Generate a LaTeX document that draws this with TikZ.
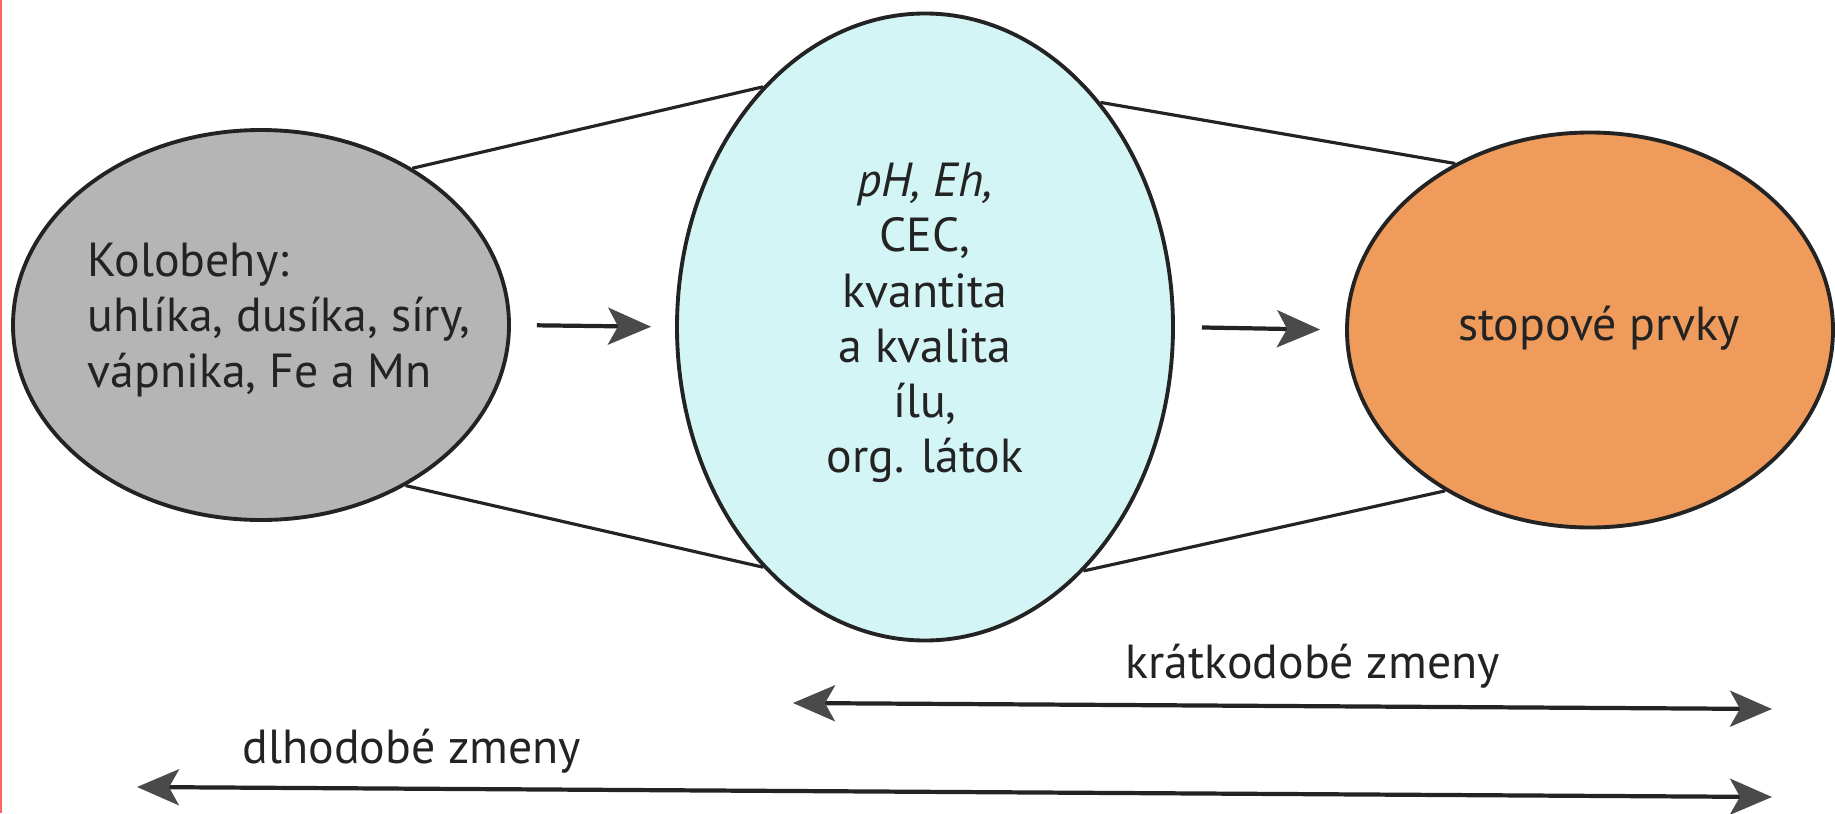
\documentclass[tikz,border=0pt]{standalone}
\usepackage{fontspec}
\setmainfont{PT Sans}
\usepackage{tikz}
\usetikzlibrary{shapes,arrows.meta,positioning}
\definecolor{cyclegray}{HTML}{B5B5B5}
\definecolor{claycyan}{HTML}{D4F5F5}
\definecolor{traceorange}{HTML}{EE9B5B}
\definecolor{inkgray}{HTML}{232323}
\definecolor{tipgray}{HTML}{4A4A4A}
\definecolor{scanred}{HTML}{FF6464}

\begin{document}
\begin{tikzpicture}[
    blob/.style={ellipse, draw=inkgray, line width=1.1pt, inner sep=0pt},
    blobtext/.style={text=inkgray, inner sep=0pt, font=\fontsize{13.6}{15.7}\selectfont},
    tie/.style={draw=inkgray, line width=0.9pt},
    flow/.style={-{Stealth[length=4.3mm, width=3.7mm, inset=1mm, color=tipgray]}, draw=inkgray, line width=1.2pt},
    span/.style={{Stealth[length=4.2mm, width=3.6mm, inset=1mm, color=tipgray]}-{Stealth[length=4.2mm, width=3.6mm, inset=1mm, color=tipgray]}, draw=inkgray, line width=1.2pt}
]
        % Page and scan edge
        \fill[white] (0,0) rectangle (18.35,8.13);
        \useasboundingbox (0,0) rectangle (18.35,8.13);
        \draw[scanred, line width=0.6pt] (0.01,0) -- (0.01,8.13);

        % The three ellipses
        \node[blob, fill=cyclegray, minimum width=4.96cm, minimum height=3.90cm] (cycles) at (2.61,4.88) {};
        \node[blob, fill=claycyan, minimum width=4.96cm, minimum height=6.27cm] (clay) at (9.25,4.86) {};
        \node[blob, fill=traceorange, minimum width=4.86cm, minimum height=3.95cm] (trace) at (15.90,4.83) {};

        % Texts inside
        \node[blobtext, align=left, anchor=west] (cyclestext) at (0.87,4.93) {Kolobehy:\\uhlíka, dusíka, síry,\\vápnika, Fe a Mn};
        \node[blobtext, align=center] (claytext) at (9.25,4.90) {\textit{pH, Eh,}\\CEC,\\kvantita\\a kvalita\\ílu,\\org. látok};
        \node[blobtext] (tracetext) at (15.99,4.85) {stopové prvky};

        % Straight ties between the ellipses
        \draw[tie] (cycles.46) -- (clay.124);
        \draw[tie] (cycles.-48) -- (clay.236);
        \draw[tie] (clay.52) -- (trace.129);
        \draw[tie] (clay.-57) -- (trace.228);

        % Arrows from left to right
        \draw[flow, shorten <=0.26cm, shorten >=0.24cm] (cycles.east) -- (clay.west);
        \draw[flow, shorten <=0.27cm, shorten >=0.25cm] (clay.east) -- (trace.west);

        % Time scales at the bottom
        \coordinate (shortL) at (7.93,1.10);
        \coordinate (shortR) at (17.72,1.04);
        \coordinate (longL) at (1.37,0.26);
        \coordinate (longR) at (17.72,0.16);
        \draw[span] (shortL) -- (shortR);
        \draw[span] (longL) -- (longR);
        \node[blobtext, anchor=base west] (shortlabel) at (11.25,1.35) {krátkodobé zmeny};
        \node[blobtext, anchor=base west] (longlabel) at (2.42,0.50) {dlhodobé zmeny};
    \end{tikzpicture}
\end{document}
